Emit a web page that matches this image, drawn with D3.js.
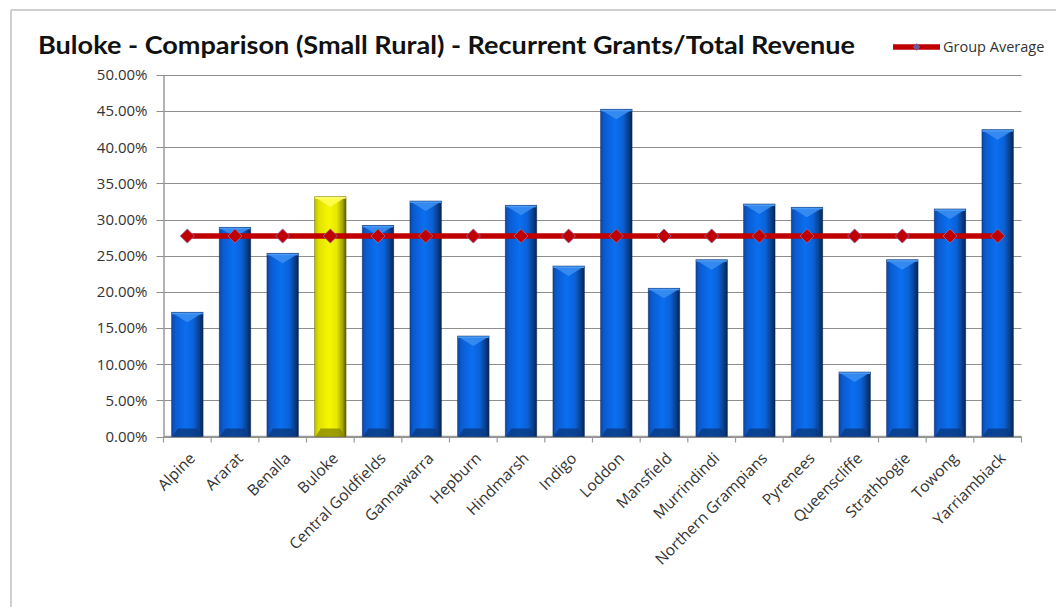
<!DOCTYPE html>
<html>
<head>
<meta charset="utf-8">
<script src="https://cdn.jsdelivr.net/npm/d3@7/dist/d3.min.js"></script>
<style>
  html, body { margin: 0; padding: 0; background: #fff; }
  svg { display: block; }
  text { font-family: "Open Sans", "DejaVu Sans", sans-serif; fill: #333; }
</style>
</head>
<body>
<svg id="chart" width="1056" height="607"></svg>
<script>
// Councils in the Small Rural group
const categories = [
  "Alpine", "Ararat", "Benalla", "Buloke", "Central Goldfields", "Gannawarra",
  "Hepburn", "Hindmarsh", "Indigo", "Loddon", "Mansfield", "Murrindindi",
  "Northern Grampians", "Pyrenees", "Queenscliffe", "Strathbogie", "Towong", "Yarriambiack"
];
// Recurrent grants as a share of total revenue
const ratioValues = [
  0.1718, 0.2893, 0.2534, 0.3317, 0.2920, 0.3257,
  0.1390, 0.3198, 0.2358, 0.4526, 0.2050, 0.2445,
  0.3216, 0.3170, 0.0892, 0.2445, 0.3147, 0.4244
];
// Group average, plotted per council
const groupAverage = [
  0.2773, 0.2773, 0.2773, 0.2773, 0.2773, 0.2773,
  0.2773, 0.2773, 0.2773, 0.2773, 0.2773, 0.2773,
  0.2773, 0.2773, 0.2773, 0.2773, 0.2773, 0.2773
];
const highlighted = "Buloke";
const yTicks = [0, 0.05, 0.10, 0.15, 0.20, 0.25, 0.30, 0.35, 0.40, 0.45, 0.50];

const svg = d3.select("#chart");

// chart frame
svg.append("line").attr("x1", 11).attr("x2", 1056).attr("y1", 10).attr("y2", 10)
  .attr("stroke", "#cfcfcf").attr("stroke-width", 2);
svg.append("line").attr("x1", 11).attr("x2", 11).attr("y1", 10).attr("y2", 607)
  .attr("stroke", "#cfcfcf").attr("stroke-width", 2);

const plot = { left: 163.5, right: 1021.5, top: 75, bottom: 436.5 };

const x = d3.scaleBand().domain(categories).range([plot.left, plot.right]).padding(0);
const y = d3.scaleLinear().domain([0, 0.5]).range([plot.bottom, plot.top]);
const barW = x.bandwidth() * 0.66;

// gradients for the bevelled bars
const defs = svg.append("defs");
function barGradient(id, stops) {
  const g = defs.append("linearGradient").attr("id", id)
    .attr("x1", "0").attr("x2", "1").attr("y1", "0").attr("y2", "0");
  stops.forEach(s => g.append("stop").attr("offset", s[0]).attr("stop-color", s[1]));
}
barGradient("gBlue", [[0, "#0b47a3"], [0.12, "#0b5bd0"], [0.45, "#0a6ff0"], [0.7, "#0a62d8"], [0.88, "#0a3f8e"], [1, "#06244f"]]);
barGradient("gYellow", [[0, "#b8b800"], [0.12, "#e0e000"], [0.45, "#f6f600"], [0.7, "#e8e800"], [0.88, "#a8a800"], [1, "#585800"]]);

// gridlines
svg.append("g").selectAll("line").data(yTicks).join("line")
  .attr("x1", plot.left - 7).attr("x2", plot.right)
  .attr("y1", d => Math.round(y(d)) + 0.5).attr("y2", d => Math.round(y(d)) + 0.5)
  .attr("stroke", "#8e8e8e").attr("stroke-width", 1);

// y axis
const yAxis = svg.append("g").attr("transform", `translate(${plot.left},0)`)
  .call(d3.axisLeft(y).tickValues(yTicks).tickSize(0).tickPadding(16)
    .tickFormat(d => (d * 100).toFixed(2) + "%"));
yAxis.select(".domain").attr("stroke", "#9a9a9a").attr("stroke-width", 1.5);
yAxis.selectAll("text").style("font-size", "15px").attr("fill", "#333")
  .style("font-family", "'Open Sans', sans-serif");

// x axis
const xAxis = svg.append("g").attr("transform", `translate(0,${plot.bottom})`);
xAxis.append("line").attr("x1", plot.left).attr("x2", plot.right).attr("y1", 0).attr("y2", 0)
  .attr("stroke", "#9a9a9a").attr("stroke-width", 1.5);
const boundaries = categories.map(c => x(c)).concat([plot.right]);
xAxis.selectAll("line.tk").data(boundaries).join("line").attr("class", "tk")
  .attr("x1", d => d).attr("x2", d => d).attr("y1", 0).attr("y2", 6)
  .attr("stroke", "#9a9a9a").attr("stroke-width", 1.2);
xAxis.selectAll("text").data(categories).join("text")
  .attr("transform", d => `translate(${x(d) + x.bandwidth() / 2 + 5},${19}) rotate(-45)`)
  .attr("text-anchor", "end").attr("dy", "0.35em")
  .style("font-size", "15.5px").text(d => d);

// bars
const bars = svg.append("g").selectAll("g").data(categories).join("g");
bars.each(function (c, i) {
  const g = d3.select(this);
  const x0 = x(c) + (x.bandwidth() - barW) / 2, x1 = x0 + barW;
  const y0 = y(ratioValues[i]), y1 = y(0);
  const isHi = c === highlighted;
  const b = Math.min(10, (y1 - y0) / 2);
  g.append("rect").attr("x", x0).attr("y", y0).attr("width", barW).attr("height", y1 - y0)
    .attr("fill", isHi ? "url(#gYellow)" : "url(#gBlue)");
  // top bevel chevron
  g.append("polygon")
    .attr("points", [[x0 + 1, y0 + 1], [x1 - 1, y0 + 1], [(x0 + x1) / 2, y0 + b]].map(p => p.join(",")).join(" "))
    .attr("fill", isHi ? "#ffff55" : "#3c8ff2").attr("opacity", 0.85);
  g.append("rect").attr("x", x0).attr("y", y0).attr("width", barW).attr("height", 2)
    .attr("fill", isHi ? "#ffff70" : "#4a9af5");
  // bottom bevel
  g.append("polygon")
    .attr("points", [[x0 + 1, y1], [x1 - 1, y1], [x1 - 6, y1 - 8], [x0 + 6, y1 - 8]].map(p => p.join(",")).join(" "))
    .attr("fill", isHi ? "#8a8a00" : "#0a3a80").attr("opacity", 0.8);
  g.append("rect").attr("x", x0).attr("y", y0).attr("width", barW).attr("height", y1 - y0)
    .attr("fill", "none").attr("stroke", isHi ? "#6a6a00" : "#0a2a60").attr("stroke-width", 0.8)
    .attr("stroke-opacity", 0.6);
});

// group average line with diamond markers
const cx = c => x(c) + x.bandwidth() / 2;
const line = d3.line().x((d, i) => cx(categories[i])).y(d => y(d));
svg.append("path").datum(groupAverage).attr("d", line)
  .attr("fill", "none").attr("stroke", "#c00000").attr("stroke-width", 5.5);
const diamond = d3.symbol().type(d3.symbolSquare).size(100);
svg.append("g").selectAll("path").data(groupAverage).join("path")
  .attr("d", diamond)
  .attr("transform", (d, i) => `translate(${cx(categories[i])},${y(d)}) rotate(45)`)
  .attr("fill", "#c00000").attr("stroke", "#8a6aa8").attr("stroke-width", 0.8);

// title
svg.append("text").attr("x", 38).attr("y", 54)
  .attr("textLength", 817).attr("lengthAdjust", "spacingAndGlyphs")
  .style("font-family", "Lato, 'Open Sans', sans-serif").style("font-weight", "bold")
  .style("font-size", "24px").style("fill", "#111")
  .text("Buloke - Comparison (Small Rural) - Recurrent Grants/Total Revenue");

// legend
const lg = svg.append("g");
lg.append("line").attr("x1", 893).attr("x2", 940).attr("y1", 47).attr("y2", 47)
  .attr("stroke", "#c00000").attr("stroke-width", 5.5);
lg.append("path").attr("d", d3.symbol().type(d3.symbolSquare).size(30))
  .attr("transform", "translate(916.5,47) rotate(45)")
  .attr("fill", "#6a5a9a");
lg.append("text").attr("x", 943).attr("y", 52).style("font-size", "14.5px").text("Group Average");
</script>
</body>
</html>
